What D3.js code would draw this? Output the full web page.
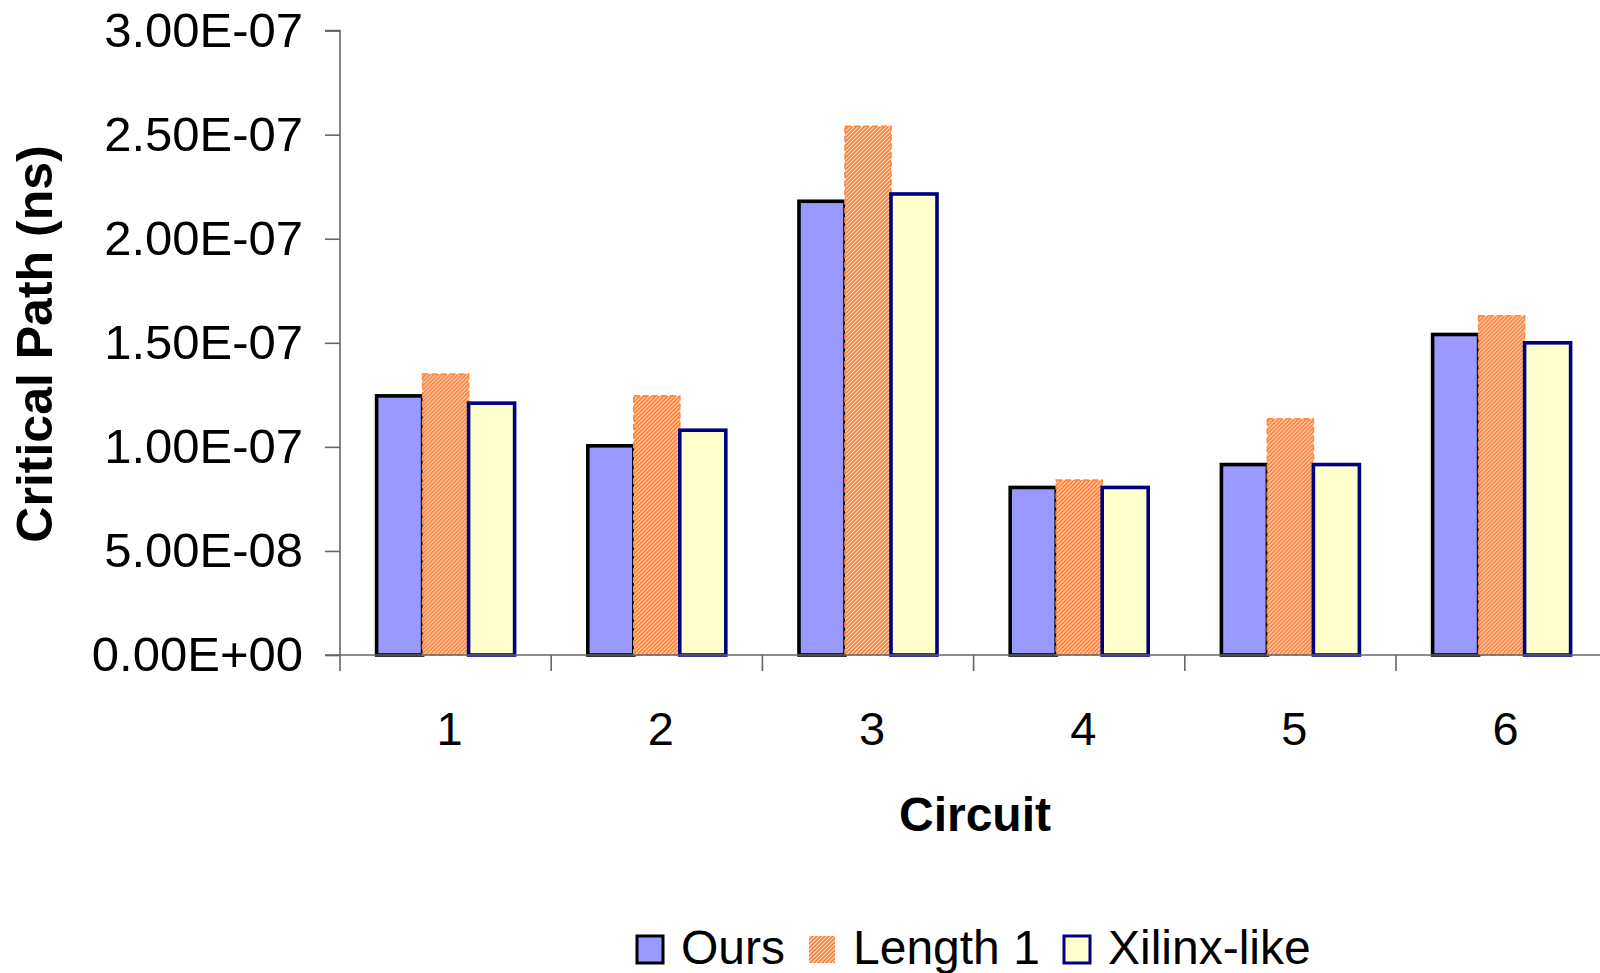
<!DOCTYPE html>
<html>
<head>
<meta charset="utf-8">
<script src="https://cdn.jsdelivr.net/npm/d3@7"></script>
<style>
  html, body { margin: 0; padding: 0; background: #fff; overflow: hidden; }
  svg { display: block; font-family: "Liberation Sans", Arial, sans-serif; }
</style>
</head>
<body>
<svg id="chart" width="1600" height="973"></svg>
<script>
// Critical path per circuit for three routing architectures
const circuits = ["1", "2", "3", "4", "5", "6"];
const seriesNames = ["Ours", "Length 1", "Xilinx-like"];
const oursValues = [1.245e-7, 1.005e-7, 2.18e-7, 0.805e-7, 0.915e-7, 1.54e-7];
const length1Values = [1.35e-7, 1.245e-7, 2.54e-7, 0.84e-7, 1.135e-7, 1.63e-7];
const xilinxValues = [1.21e-7, 1.08e-7, 2.215e-7, 0.805e-7, 0.915e-7, 1.50e-7];
const yTickValues = [0, 5e-8, 1e-7, 1.5e-7, 2e-7, 2.5e-7, 3e-7];
const yTitle = "Critical Path (ns)";
const xTitle = "Circuit";

const seriesValues = [oursValues, length1Values, xilinxValues];

const svg = d3.select("#chart");

// plot geometry
const x0 = 340, step = 211.2, y0 = 655, yTop = 30.6;
const gapFrac = 0.3466;

const x = d3.scaleBand()
  .domain(circuits)
  .range([x0, x0 + step * circuits.length])
  .paddingInner(gapFrac)
  .paddingOuter(gapFrac / 2);

const xs = d3.scaleBand()
  .domain(seriesNames)
  .range([0, x.bandwidth()])
  .padding(0);

const y = d3.scaleLinear().domain([0, 3e-7]).range([y0, yTop]);

// Excel-like scientific notation: 1.50E-07
function sci(v) {
  const s = d3.format(".2e")(v);
  const [m, e] = s.split("e");
  const sign = e[0] === "-" ? "-" : "+";
  const digits = e.replace(/^[+-]/, "").padStart(2, "0");
  return m + "E" + sign + digits;
}

// diagonal hatch for the "Length 1" series
const defs = svg.append("defs");
const pat = defs.append("pattern")
  .attr("id", "hatch")
  .attr("patternUnits", "userSpaceOnUse")
  .attr("width", 4).attr("height", 4);
pat.append("rect").attr("width", 4).attr("height", 4).attr("fill", "#ffe2cc");
pat.append("path")
  .attr("d", "M-1,1 L1,-1 M0,4 L4,0 M3,5 L5,3")
  .attr("stroke", "#ff7a30")
  .attr("stroke-width", 1.7);

const styles = [
  { fill: "#9999ff", stroke: "#000000", width: 3.6, dash: null },
  { fill: "url(#hatch)", stroke: "#ff8a40", width: 1.6, dash: "6,3" },
  { fill: "#ffffcc", stroke: "#000080", width: 3.6, dash: null }
];

// y axis
const yAxis = d3.axisLeft(y)
  .tickValues(yTickValues)
  .tickFormat(sci)
  .tickSize(15)
  .tickPadding(22);
const gy = svg.append("g").attr("transform", `translate(${x0},0)`).call(yAxis);
gy.select(".domain").attr("stroke", "#666").attr("stroke-width", 1.6)
  .attr("d", `M-15,${yTop}H0V${y0 + 16}`);
gy.selectAll(".tick line").attr("stroke", "#666").attr("stroke-width", 1.6);
gy.selectAll(".tick text")
  .attr("font-size", 49)
  .attr("fill", "#000")
  .attr("font-family", "Liberation Sans, Arial, sans-serif");

// bars
const groups = svg.append("g").selectAll("g")
  .data(circuits)
  .join("g")
  .attr("transform", d => `translate(${x(d)},0)`);

seriesNames.forEach((name, si) => {
  const st = styles[si];
  groups.append("rect")
    .attr("x", xs(name))
    .attr("width", xs.bandwidth())
    .attr("y", (d, i) => y(seriesValues[si][i]))
    .attr("height", (d, i) => y0 - y(seriesValues[si][i]))
    .attr("fill", st.fill)
    .attr("stroke", st.stroke)
    .attr("stroke-width", st.width)
    .attr("stroke-dasharray", st.dash);
});

// x axis baseline and category separators
const xEnd = x0 + step * circuits.length;
svg.append("line")
  .attr("x1", x0 - 15).attr("x2", xEnd)
  .attr("y1", y0).attr("y2", y0)
  .attr("stroke", "#666").attr("stroke-width", 1.6);
const sepX = circuits.map(c => x(c) - x.step() * x.paddingOuter()).slice(1);
svg.append("g").selectAll("line")
  .data(sepX)
  .join("line")
  .attr("x1", d => d).attr("x2", d => d)
  .attr("y1", y0).attr("y2", y0 + 16)
  .attr("stroke", "#666").attr("stroke-width", 1.6);

// category labels
svg.append("g").selectAll("text")
  .data(circuits)
  .join("text")
  .attr("x", d => x(d) + x.bandwidth() / 2 + 4)
  .attr("y", 745)
  .attr("text-anchor", "middle")
  .attr("font-size", 47)
  .text(d => d);

// axis titles
svg.append("text")
  .attr("x", 975).attr("y", 831)
  .attr("text-anchor", "middle")
  .attr("font-size", 48)
  .attr("font-weight", "bold")
  .text(xTitle);

svg.append("text")
  .attr("transform", "translate(52,344) rotate(-90)")
  .attr("text-anchor", "middle")
  .attr("font-size", 50)
  .attr("font-weight", "bold")
  .text(yTitle);

// legend
const legendX = [637, 809, 1064];
const leg = svg.append("g").selectAll("g")
  .data(seriesNames)
  .join("g")
  .attr("transform", (d, i) => `translate(${legendX[i]},936)`);
leg.append("rect")
  .attr("width", 26).attr("height", 27)
  .attr("fill", (d, i) => styles[i].fill)
  .attr("stroke", (d, i) => i === 1 ? "none" : styles[i].stroke)
  .attr("stroke-width", 3);
leg.append("text")
  .attr("x", 44).attr("y", 28)
  .attr("font-size", 48)
  .text(d => d);
</script>
</body>
</html>
